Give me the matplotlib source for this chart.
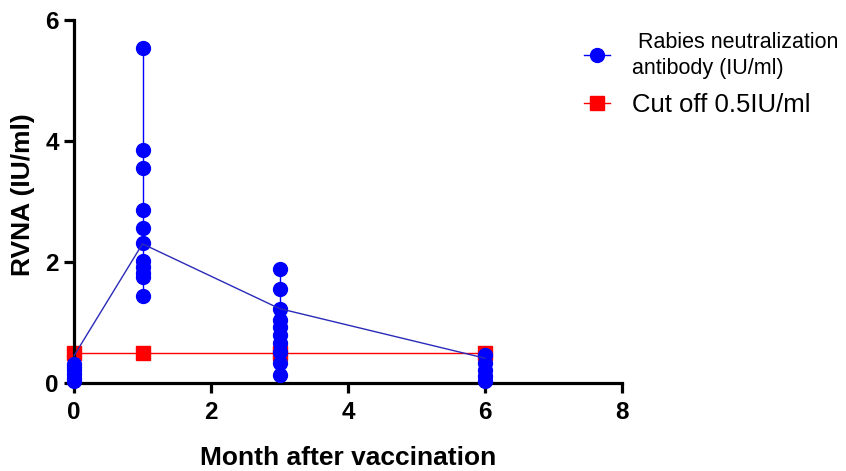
import matplotlib
matplotlib.use("Agg")
import matplotlib.pyplot as plt
from matplotlib.lines import Line2D

plt.rcParams['font.family'] = ['Liberation Sans', 'DejaVu Sans']

months = [0, 1, 3, 6]
rvna_m0 = [0.03, 0.09, 0.15, 0.21, 0.27, 0.32]
rvna_m1 = [1.43, 1.75, 1.82, 1.92, 2.02, 2.31, 2.56, 2.86, 3.55, 3.85, 5.54]
rvna_m3 = [0.14, 0.33, 0.52, 0.66, 0.79, 0.93, 1.04, 1.23, 1.56, 1.88]
rvna_m6 = [0.03, 0.12, 0.22, 0.33, 0.46]
rvna_line = [0.45, 2.30, 1.23, 0.41]
cutoff = [0.5, 0.5, 0.5, 0.5]

label_rvna = " Rabies neutralization\nantibody (IU/ml)"
label_cut = "Cut off 0.5IU/ml"

BLUE = "#0000ff"
RED = "#ff0000"

fig = plt.figure(figsize=(8.46, 4.71), dpi=100)
ax = fig.add_axes([74/846, 1-383/471, (622-74)/846, (383-20)/471])

# cutoff line
ax.plot(months, cutoff, color=RED, lw=1.0, marker='s', ms=9.5,
        mec=RED, mfc=RED, clip_on=False, zorder=2)

# individual values per month
for m, vals in zip(months, [rvna_m0, rvna_m1, rvna_m3, rvna_m6]):
    ax.plot([m]*len(vals), vals, color=BLUE, lw=1.0, marker='o', ms=10,
            mec=BLUE, mfc=BLUE, clip_on=False, zorder=3)

# connecting line
ax.plot(months, rvna_line, color="#2a2ab8", lw=1.0, clip_on=False, zorder=4)

ax.set_xlim(0, 8)
ax.set_ylim(0, 6)
ax.set_xticks([0, 2, 4, 6, 8])
ax.set_yticks([0, 2, 4, 6])

for s in ['top', 'right']:
    ax.spines[s].set_visible(False)
for s in ['left', 'bottom']:
    ax.spines[s].set_linewidth(2.3)
    ax.spines[s].set_color('black')
ax.tick_params(axis='both', width=2.3, length=7, direction='out',
               labelsize=17.5)
ax.tick_params(axis='x', pad=6)
ax.tick_params(axis='y', pad=4)
for t in ax.get_xticklabels() + ax.get_yticklabels():
    t.set_fontweight('bold')

ax.set_xlabel("Month after vaccination", fontsize=19, fontweight='bold', labelpad=16)
ax.set_ylabel("RVNA (IU/ml)", fontsize=19, fontweight='bold', labelpad=6)
ax.yaxis.set_label_coords(-0.072, 0.52)

handles = [
    Line2D([0], [0], color=BLUE, lw=1.0, marker='o', ms=10, mfc=BLUE, mec=BLUE),
    Line2D([0], [0], color=RED, lw=1.0, marker='s', ms=9.5, mfc=RED, mec=RED),
]
leg = fig.legend(handles, [label_rvna, label_cut], loc='upper left',
                 bbox_to_anchor=(574/846, 1-22/471), frameon=False, fontsize=18.5,
                 handlelength=1.0, handletextpad=0.85, labelspacing=0.55,
                 borderaxespad=0.0)
leg.get_texts()[0].set_fontsize(15.5)
leg.get_texts()[0].set_linespacing(1.3)

fig.savefig("out.png", dpi=100)
